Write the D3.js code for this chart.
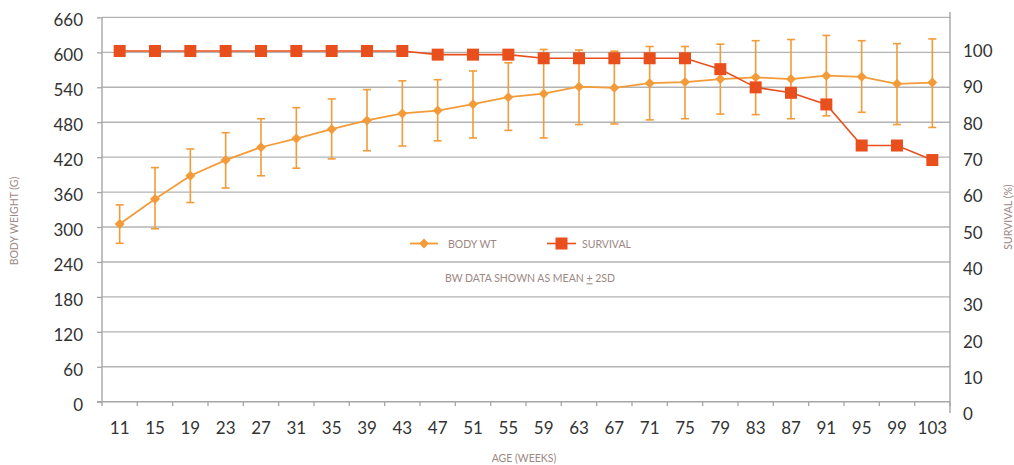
<!DOCTYPE html>
<html>
<head>
<meta charset="utf-8">
<script src="https://cdn.jsdelivr.net/npm/d3@7"></script>
<style>
  html, body { margin: 0; padding: 0; background: #fff; }
  svg { display: block; font-family: Lato, "Open Sans", sans-serif; }
</style>
</head>
<body>
<svg id="chart" width="1014" height="465"></svg>
<script>
// ---- data ----
const weeks = [11, 15, 19, 23, 27, 31, 35, 39, 43, 47, 51, 55, 59, 63, 67, 71, 75, 79, 83, 87, 91, 95, 99, 103];
const bwMean = [305, 348, 388, 415, 437, 452, 468, 483, 495, 500, 511, 523, 529, 541, 539, 547, 549, 554, 557, 554, 560, 558, 546, 548];
const bwUpper = [338, 402, 434, 462, 486, 505, 520, 536, 551, 553, 568, 582, 605, 604, 602, 610, 610, 614, 620, 622, 629, 620, 615, 623];
const bwLower = [272, 297, 342, 367, 388, 401, 417, 431, 439, 448, 453, 466, 453, 476, 477, 484, 486, 494, 493, 486, 491, 497, 476, 471];
const survival = [100, 100, 100, 100, 100, 100, 100, 100, 100, 99, 99, 99, 98, 98, 98, 98, 98, 95, 90, 88.5, 85.3, 74, 74, 70];
const leftTicks = [0, 60, 120, 180, 240, 300, 360, 420, 480, 540, 600, 660];
const rightTicks = [0, 10, 20, 30, 40, 50, 60, 70, 80, 90, 100];

// ---- style ----
const bwColor = "#f39b38";
const survColor = "#e84f1d";
const gridColor = "#b3b3b3";
const axisColor = "#a6a6a6";
const tickTextColor = "#333333";
const titleColor = "#9c8884";

const svg = d3.select("#chart");

const x = d3.scaleBand().domain(weeks).range([102, 950]).padding(0);
const y = d3.scaleLinear().domain([0, 660]).range([401.7, 17.4]);
const s = d3.scaleLinear().domain([0, 100]).range([414.5, 51]);
const cx = d => x(d) + x.bandwidth() / 2;

// gridlines
svg.append("g")
  .selectAll("line")
  .data(leftTicks.filter(d => d > 0))
  .join("line")
  .attr("x1", 102).attr("x2", 950)
  .attr("y1", d => y(d)).attr("y2", d => y(d))
  .attr("stroke", gridColor).attr("stroke-width", 1.4);

// left axis
const leftAxis = svg.append("g")
  .attr("transform", "translate(102,0)")
  .call(d3.axisLeft(y).tickValues(leftTicks).tickSize(5).tickPadding(14).tickSizeOuter(0));
leftAxis.select(".domain").remove();
leftAxis.selectAll(".tick line").attr("stroke", axisColor).attr("stroke-width", 1.3);
leftAxis.selectAll(".tick text")
  .attr("fill", tickTextColor).attr("font-size", 17).attr("font-family", "Lato")
  .attr("dy", "0.5em");
svg.append("line").attr("x1", 102).attr("x2", 102).attr("y1", 17).attr("y2", 406)
  .attr("stroke", axisColor).attr("stroke-width", 1.4);

// bottom axis
svg.append("line").attr("x1", 97).attr("x2", 950).attr("y1", 401.7).attr("y2", 401.7)
  .attr("stroke", axisColor).attr("stroke-width", 1.4);
const bottomAxis = svg.append("g")
  .attr("transform", "translate(0,401.7)")
  .call(d3.axisBottom(x).tickSize(0).tickPadding(20));
bottomAxis.select(".domain").remove();
bottomAxis.selectAll(".tick text")
  .attr("fill", tickTextColor).attr("font-size", 17).attr("font-family", "Lato");
svg.append("g").selectAll("line")
  .data(weeks.slice(1).concat(["end"]))
  .join("line")
  .attr("x1", d => d === "end" ? 950 : x(d)).attr("x2", d => d === "end" ? 950 : x(d))
  .attr("y1", 401.7).attr("y2", 406)
  .attr("stroke", axisColor).attr("stroke-width", 1.3);

// right axis
svg.append("line").attr("x1", 950).attr("x2", 950).attr("y1", 12).attr("y2", 413)
  .attr("stroke", axisColor).attr("stroke-width", 1.4);
const rightAxis = svg.append("g")
  .attr("transform", "translate(950,0)")
  .call(d3.axisRight(s).tickValues(rightTicks).tickSize(0).tickPadding(13));
rightAxis.select(".domain").remove();
rightAxis.selectAll(".tick text")
  .attr("fill", tickTextColor).attr("font-size", 17).attr("font-family", "Lato");

// axis titles
svg.append("text")
  .attr("transform", "translate(18,221) rotate(-90)")
  .attr("text-anchor", "middle").attr("font-size", 10.5).attr("fill", titleColor)
  .text("BODY WEIGHT (G)");
svg.append("text")
  .attr("transform", "translate(1011.5,217) rotate(-90)")
  .attr("text-anchor", "middle").attr("font-size", 10.5).attr("fill", titleColor)
  .text("SURVIVAL (%)");
svg.append("text")
  .attr("x", 524).attr("y", 461.5)
  .attr("text-anchor", "middle").attr("font-size", 10.5).attr("fill", titleColor)
  .text("AGE (WEEKS)");

// error bars
const eb = svg.append("g").attr("stroke", bwColor).attr("stroke-width", 1.6).attr("fill", "none");
weeks.forEach((w, i) => {
  const xc = cx(w);
  eb.append("line").attr("x1", xc).attr("x2", xc).attr("y1", y(bwUpper[i])).attr("y2", y(bwLower[i]));
  eb.append("line").attr("x1", xc - 4).attr("x2", xc + 4).attr("y1", y(bwUpper[i])).attr("y2", y(bwUpper[i]));
  eb.append("line").attr("x1", xc - 4).attr("x2", xc + 4).attr("y1", y(bwLower[i])).attr("y2", y(bwLower[i]));
});

// body weight line
svg.append("path")
  .datum(weeks.map((w, i) => [cx(w), y(bwMean[i])]))
  .attr("d", d3.line())
  .attr("fill", "none").attr("stroke", bwColor).attr("stroke-width", 1.8);

const diamond = d3.symbol().type(d3.symbolSquare).size(50);
svg.append("g").selectAll("path")
  .data(weeks)
  .join("path")
  .attr("d", diamond)
  .attr("transform", (w, i) => `translate(${cx(w)},${y(bwMean[i])}) rotate(45)`)
  .attr("fill", bwColor);

// survival line
svg.append("path")
  .datum(weeks.map((w, i) => [cx(w), s(survival[i])]))
  .attr("d", d3.line())
  .attr("fill", "none").attr("stroke", survColor).attr("stroke-width", 1.6);
svg.append("g").selectAll("rect")
  .data(weeks)
  .join("rect")
  .attr("x", w => cx(w) - 6)
  .attr("y", (w, i) => s(survival[i]) - 6)
  .attr("width", 12).attr("height", 12)
  .attr("fill", survColor);

// legend
const lg = svg.append("g");
lg.append("line").attr("x1", 410).attr("x2", 438).attr("y1", 243.5).attr("y2", 243.5)
  .attr("stroke", bwColor).attr("stroke-width", 1.8);
lg.append("path").attr("d", diamond).attr("transform", "translate(424,243.5) rotate(45)").attr("fill", bwColor);
lg.append("text").attr("x", 448).attr("y", 247.7).attr("font-size", 10.5).attr("fill", titleColor).text("BODY WT");
lg.append("line").attr("x1", 547).attr("x2", 576).attr("y1", 243.5).attr("y2", 243.5)
  .attr("stroke", survColor).attr("stroke-width", 1.6);
lg.append("rect").attr("x", 555.5).attr("y", 237.5).attr("width", 12).attr("height", 12).attr("fill", survColor);
lg.append("text").attr("x", 582).attr("y", 247.7).attr("font-size", 10.5).attr("fill", titleColor).text("SURVIVAL");

const note = svg.append("text").attr("x", 530).attr("y", 282.3)
  .attr("text-anchor", "middle").attr("font-size", 10.5).attr("fill", titleColor);
note.append("tspan").text("BW DATA SHOWN AS MEAN ");
note.append("tspan").attr("text-decoration", "underline").text("+");
note.append("tspan").text(" 2SD");
</script>
</body>
</html>
